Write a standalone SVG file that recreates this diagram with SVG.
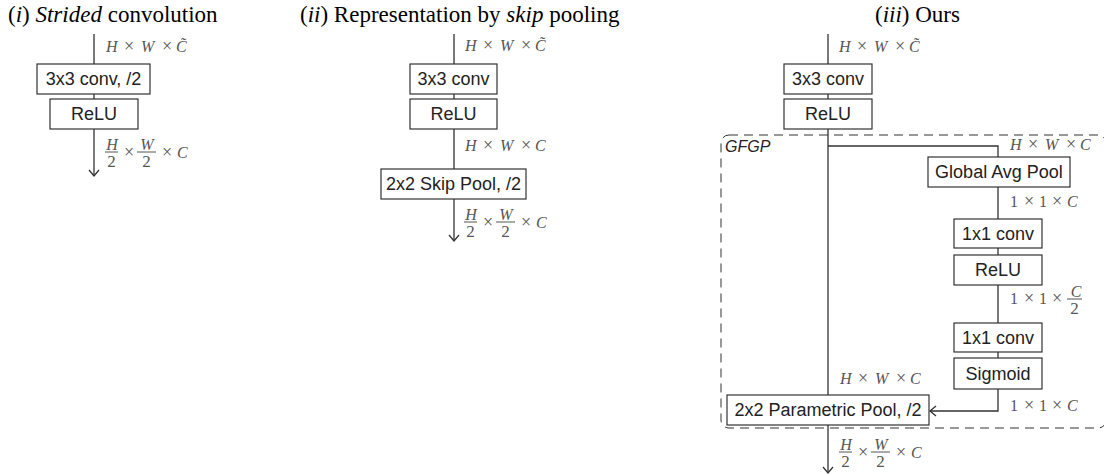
<svg xmlns="http://www.w3.org/2000/svg" width="1104" height="475" viewBox="0 0 1104 475">
  <style>
    .t{font-family:"Liberation Serif",serif;font-size:23px;fill:#000}
    .i{font-style:italic}
    .box rect{fill:#fff;stroke:#333;stroke-width:1.2}
    .box text{font-family:"Liberation Sans",Arial,sans-serif;font-size:18px;fill:#222;text-anchor:middle}
    .m{font-family:"Liberation Serif",serif;font-size:16px;fill:#555}
    .x{font-size:18px}
    .d{font-size:17px}
    .mc{text-anchor:middle}
    .fb{stroke:#555;stroke-width:1}
    .c{fill:none;stroke:#333;stroke-width:1.3}
    .grp{fill:none;stroke:#333;stroke-width:1;stroke-dasharray:9 6}
    .gl{font-family:"Liberation Sans",Arial,sans-serif;font-size:16px;font-style:italic;fill:#222}
  </style>
  <defs>
    <marker id="ah" viewBox="-8 -7 10 14" refX="0" refY="0" markerWidth="10" markerHeight="14" markerUnits="userSpaceOnUse" orient="auto">
      <path d="M-6,-5 L0,0 L-6,5" fill="none" stroke="#333" stroke-width="1.3"/>
    </marker>
  </defs>

  <!-- panel titles -->
  <text class="t" x="8" y="22">(<tspan class="i">i</tspan>) <tspan class="i">Strided</tspan> convolution</text>
  <text class="t" x="300" y="22">(<tspan class="i">ii</tspan>) Representation by <tspan class="i">skip</tspan> pooling</text>
  <text class="t" x="875" y="22">(<tspan class="i">iii</tspan>) Ours</text>

  <!-- GFGP group outline -->
  <g id="gfgp">
    <rect class="grp" x="721" y="135" width="385" height="293" rx="8"/>
    <text class="gl" x="725" y="152">GFGP</text>
  </g>

  <!-- connectors -->
  <g id="connectors">
    <!-- strided convolution -->
    <path class="c" d="M94,34 V64 M94,94 V99"/>
    <path class="c" d="M94,129 V176" marker-end="url(#ah)"/>
    <!-- skip pooling -->
    <path class="c" d="M454,34 V64 M454,94 V99 M454,129 V169"/>
    <path class="c" d="M454,199 V241" marker-end="url(#ah)"/>
    <!-- ours: main path -->
    <path class="c" d="M828,34 V64 M828,94 V99 M828,129 V395"/>
    <path class="c" d="M828,425 V473" marker-end="url(#ah)"/>
    <!-- ours: gating branch -->
    <path class="c" d="M828,146 H998 V157 M998,187 V219 M998,248 V255 M998,285 V323 M998,352 V358"/>
    <path class="c" d="M998,389 V411 H930" marker-end="url(#ah)"/>
  </g>

  <!-- (i) strided convolution nodes -->
  <g id="s-conv" class="box">
    <rect x="37" y="64" width="113" height="30"/>
    <text x="93.5" y="85">3x3 conv, /2</text>
  </g>
  <g id="s-relu" class="box">
    <rect x="50" y="99" width="88" height="30"/>
    <text x="94" y="120">ReLU</text>
  </g>

  <!-- (ii) skip pooling nodes -->
  <g id="k-conv" class="box">
    <rect x="410" y="64" width="87" height="30"/>
    <text x="453.5" y="85">3x3 conv</text>
  </g>
  <g id="k-relu" class="box">
    <rect x="410" y="99" width="87" height="30"/>
    <text x="453.5" y="120">ReLU</text>
  </g>
  <g id="k-pool" class="box">
    <rect x="381" y="169" width="145" height="30"/>
    <text x="453.5" y="190">2x2 Skip Pool, /2</text>
  </g>

  <!-- (iii) ours nodes -->
  <g id="o-conv" class="box">
    <rect x="784" y="64" width="88" height="30"/>
    <text x="828" y="85">3x3 conv</text>
  </g>
  <g id="o-relu" class="box">
    <rect x="784" y="99" width="88" height="30"/>
    <text x="828" y="120">ReLU</text>
  </g>
  <g id="o-gap" class="box">
    <rect x="928" y="157" width="142" height="30"/>
    <text x="999" y="178">Global Avg Pool</text>
  </g>
  <g id="o-fc1" class="box">
    <rect x="954" y="219" width="88" height="29"/>
    <text x="998" y="240">1x1 conv</text>
  </g>
  <g id="o-relu2" class="box">
    <rect x="954" y="255" width="88" height="30"/>
    <text x="998" y="276">ReLU</text>
  </g>
  <g id="o-fc2" class="box">
    <rect x="954" y="323" width="88" height="29"/>
    <text x="998" y="344">1x1 conv</text>
  </g>
  <g id="o-sig" class="box">
    <rect x="954" y="358" width="88" height="31"/>
    <text x="998" y="380">Sigmoid</text>
  </g>
  <g id="o-pool" class="box">
    <rect x="727" y="395" width="202" height="30"/>
    <text x="828" y="416">2x2 Parametric Pool, /2</text>
  </g>

  <!-- tensor shape labels -->
  <g id="shapes">
    <!-- (i) -->
    <text class="m" y="52"><tspan class="i" x="106">H</tspan><tspan class="x" x="124">×</tspan><tspan class="i" x="141">W</tspan><tspan class="x" x="162">×</tspan><tspan class="i" x="176">C&#x303;</tspan></text>
    <g>
      <text class="m i mc" x="112" y="149.5">H</text>
      <line class="fb" x1="105" y1="152" x2="118" y2="152"/>
      <text class="m d mc" x="111.5" y="167">2</text>
      <text class="m x" x="124" y="158">×</text>
      <text class="m i mc" x="147" y="149.5">W</text>
      <line class="fb" x1="137" y1="152" x2="156" y2="152"/>
      <text class="m d mc" x="146.5" y="167">2</text>
      <text class="m" y="158"><tspan class="x" x="162">×</tspan><tspan class="i" x="177">C</tspan></text>
    </g>

    <!-- (ii) -->
    <text class="m" y="51"><tspan class="i" x="465">H</tspan><tspan class="x" x="483">×</tspan><tspan class="i" x="500">W</tspan><tspan class="x" x="521">×</tspan><tspan class="i" x="535">C&#x303;</tspan></text>
    <text class="m" y="151"><tspan class="i" x="465">H</tspan><tspan class="x" x="483">×</tspan><tspan class="i" x="500">W</tspan><tspan class="x" x="521">×</tspan><tspan class="i" x="535">C</tspan></text>
    <g>
      <text class="m i mc" x="471" y="219.5">H</text>
      <line class="fb" x1="464" y1="222" x2="477" y2="222"/>
      <text class="m d mc" x="470.5" y="237">2</text>
      <text class="m x" x="483" y="228">×</text>
      <text class="m i mc" x="506" y="219.5">W</text>
      <line class="fb" x1="496" y1="222" x2="515" y2="222"/>
      <text class="m d mc" x="505.5" y="237">2</text>
      <text class="m" y="228"><tspan class="x" x="521">×</tspan><tspan class="i" x="536">C</tspan></text>
    </g>

    <!-- (iii) -->
    <text class="m" y="52"><tspan class="i" x="839">H</tspan><tspan class="x" x="857">×</tspan><tspan class="i" x="874">W</tspan><tspan class="x" x="895">×</tspan><tspan class="i" x="909">C&#x303;</tspan></text>
    <text class="m" y="150"><tspan class="i" x="1010">H</tspan><tspan class="x" x="1028">×</tspan><tspan class="i" x="1045">W</tspan><tspan class="x" x="1066">×</tspan><tspan class="i" x="1080">C</tspan></text>
    <text class="m" y="207"><tspan x="1010">1</tspan><tspan class="x" x="1024">×</tspan><tspan x="1039">1</tspan><tspan class="x" x="1052">×</tspan><tspan class="i" x="1067">C</tspan></text>
    <g>
      <text class="m" y="304"><tspan x="1010">1</tspan><tspan class="x" x="1024">×</tspan><tspan x="1039">1</tspan><tspan class="x" x="1052">×</tspan></text>
      <text class="m i mc" x="1076" y="296.5">C</text>
      <line class="fb" x1="1067" y1="299" x2="1082" y2="299"/>
      <text class="m d mc" x="1074.5" y="314">2</text>
    </g>
    <text class="m" y="384"><tspan class="i" x="840">H</tspan><tspan class="x" x="858">×</tspan><tspan class="i" x="875">W</tspan><tspan class="x" x="896">×</tspan><tspan class="i" x="910">C</tspan></text>
    <text class="m" y="411"><tspan x="1010">1</tspan><tspan class="x" x="1024">×</tspan><tspan x="1039">1</tspan><tspan class="x" x="1052">×</tspan><tspan class="i" x="1067">C</tspan></text>
    <g>
      <text class="m i mc" x="846" y="449.5">H</text>
      <line class="fb" x1="839" y1="452" x2="852" y2="452"/>
      <text class="m d mc" x="845.5" y="467">2</text>
      <text class="m x" x="858" y="458">×</text>
      <text class="m i mc" x="881" y="449.5">W</text>
      <line class="fb" x1="871" y1="452" x2="890" y2="452"/>
      <text class="m d mc" x="880.5" y="467">2</text>
      <text class="m" y="458"><tspan class="x" x="896">×</tspan><tspan class="i" x="911">C</tspan></text>
    </g>
  </g>
</svg>
